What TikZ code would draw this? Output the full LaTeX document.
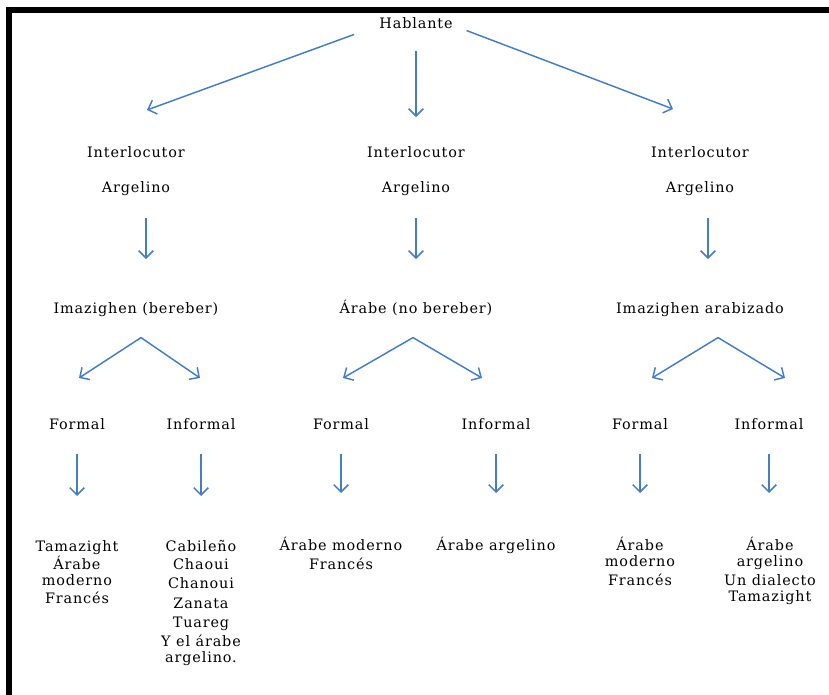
\documentclass[tikz,border=0pt]{standalone}
\usepackage{fontspec}
\setmainfont{DejaVu Serif}[LetterSpace=6]
\usepackage{tikz}
\usetikzlibrary{arrows.meta}
\definecolor{flechaazul}{RGB}{70,124,192}
\definecolor{marco}{RGB}{0,0,0}

\begin{document}
\begin{tikzpicture}[x=0.75pt, y=-0.75pt,
  texto/.style={font=\fontsize{10.8}{12}\selectfont, inner sep=0pt, anchor=base, text height=8pt, text depth=2.5pt},
  lista/.style={font=\fontsize{10.8}{12}\selectfont, inner sep=0pt, anchor=north, align=center},
  flecha/.style={draw=flechaazul, line width=1.1pt, -{Straight Barb[length=5.5pt, width=11pt]}}]

\useasboundingbox (0,0) rectangle (829,695);

% --- Marco ---
\draw[marco, line width=4.5pt] (9,695) -- (9,10) -- (829,10);

% --- Nivel 1 ---
\node[texto] (hab) at (416,29) {Hablante};

% --- Nivel 2: interlocutores ---
\node[texto] (i1) at (136,158) {Interlocutor};
\node[texto] (a1) at (136,193) {Argelino};
\node[texto] (i2) at (416,158) {Interlocutor};
\node[texto] (a2) at (416,193) {Argelino};
\node[texto] (i3) at (700,158) {Interlocutor};
\node[texto] (a3) at (700,193) {Argelino};

\coordinate (t1) at (147,110);
\coordinate (t3) at (673,109);
\draw[flecha, shorten <=20pt] (hab.west) -- (t1);
\draw[flecha, shorten <=14pt, shorten >=22.5pt] (hab.south) -- (i2.north);
\draw[flecha, shorten <=11pt] (hab.east) -- (t3);

% --- Nivel 3: hablantes ---
\node[texto] (l1) at (136,314) {Imazighen (bereber)};
\node[texto] (l2) at (416,314) {Árabe (no bereber)};
\node[texto] (l3) at (700,314) {Imazighen arabizado};

\draw[flecha, shorten <=16pt, shorten >=33pt] ([xshift=7.5pt]a1.south) -- ([xshift=7.5pt]a1.south |- l1.north);
\draw[flecha, shorten <=16pt, shorten >=33pt] (a2.south) -- (a2.south |- l2.north);
\draw[flecha, shorten <=16pt, shorten >=33pt] ([xshift=6pt]a3.south) -- ([xshift=6pt]a3.south |- l3.north);

% --- Nivel 4: registro ---
\node[texto] (fo1) at (77,430) {Formal};
\node[texto] (in1) at (201,430) {Informal};
\node[texto] (fo2) at (341,430) {Formal};
\node[texto] (in2) at (496,430) {Informal};
\node[texto] (fo3) at (640,430) {Formal};
\node[texto] (in3) at (769,430) {Informal};

\coordinate (v1) at ([xshift=3.75pt, yshift=-15pt]l1.south);
\coordinate (v2) at ([xshift=-2.25pt, yshift=-15pt]l2.south);
\coordinate (v3) at ([xshift=13.5pt, yshift=-15pt]l3.south);
\coordinate (p1) at (79,378);
\coordinate (q1) at (200,378);
\coordinate (p2) at (343,378);
\coordinate (q2) at (482,378);
\coordinate (p3) at (652,378);
\coordinate (q3) at (785,378);
\draw[flecha] (v1) -- (p1);
\draw[flecha] (v1) -- (q1);
\draw[flecha] (v2) -- (p2);
\draw[flecha] (v2) -- (q2);
\draw[flecha] (v3) -- (p3);
\draw[flecha] (v3) -- (q3);

% --- Nivel 5: lenguas ---
\node[lista] (b1) at (77,540) {Tamazight\\Árabe\\moderno\\[2pt]Francés};
\node[lista] (b2) at (201,540) {Cabileño\\[1.5pt]Chaoui\\[2.5pt]Chanoui\\[2.5pt]Zanata\\[2.5pt]Tuareg\\[2.5pt]Y el árabe\\argelino.};
\node[lista] (b3) at (341,537) {Árabe moderno\\[2pt]Francés};
\node[lista] (b4) at (496,537) {Árabe argelino};
\node[lista] (b5) at (640,537) {Árabe\\moderno\\[2pt]Francés};
\node[lista] (b6) at (770,537) {Árabe\\argelino\\[2pt]Un dialecto\\Tamazight};

\foreach \r/\b in {fo1/b1, in1/b2, fo2/b3, in2/b4, fo3/b5, in3/b6}
  \draw[flecha, shorten <=15.5pt, shorten >=33pt] (\r.south) -- (\r.south |- \b.north);

\end{tikzpicture}
\end{document}
